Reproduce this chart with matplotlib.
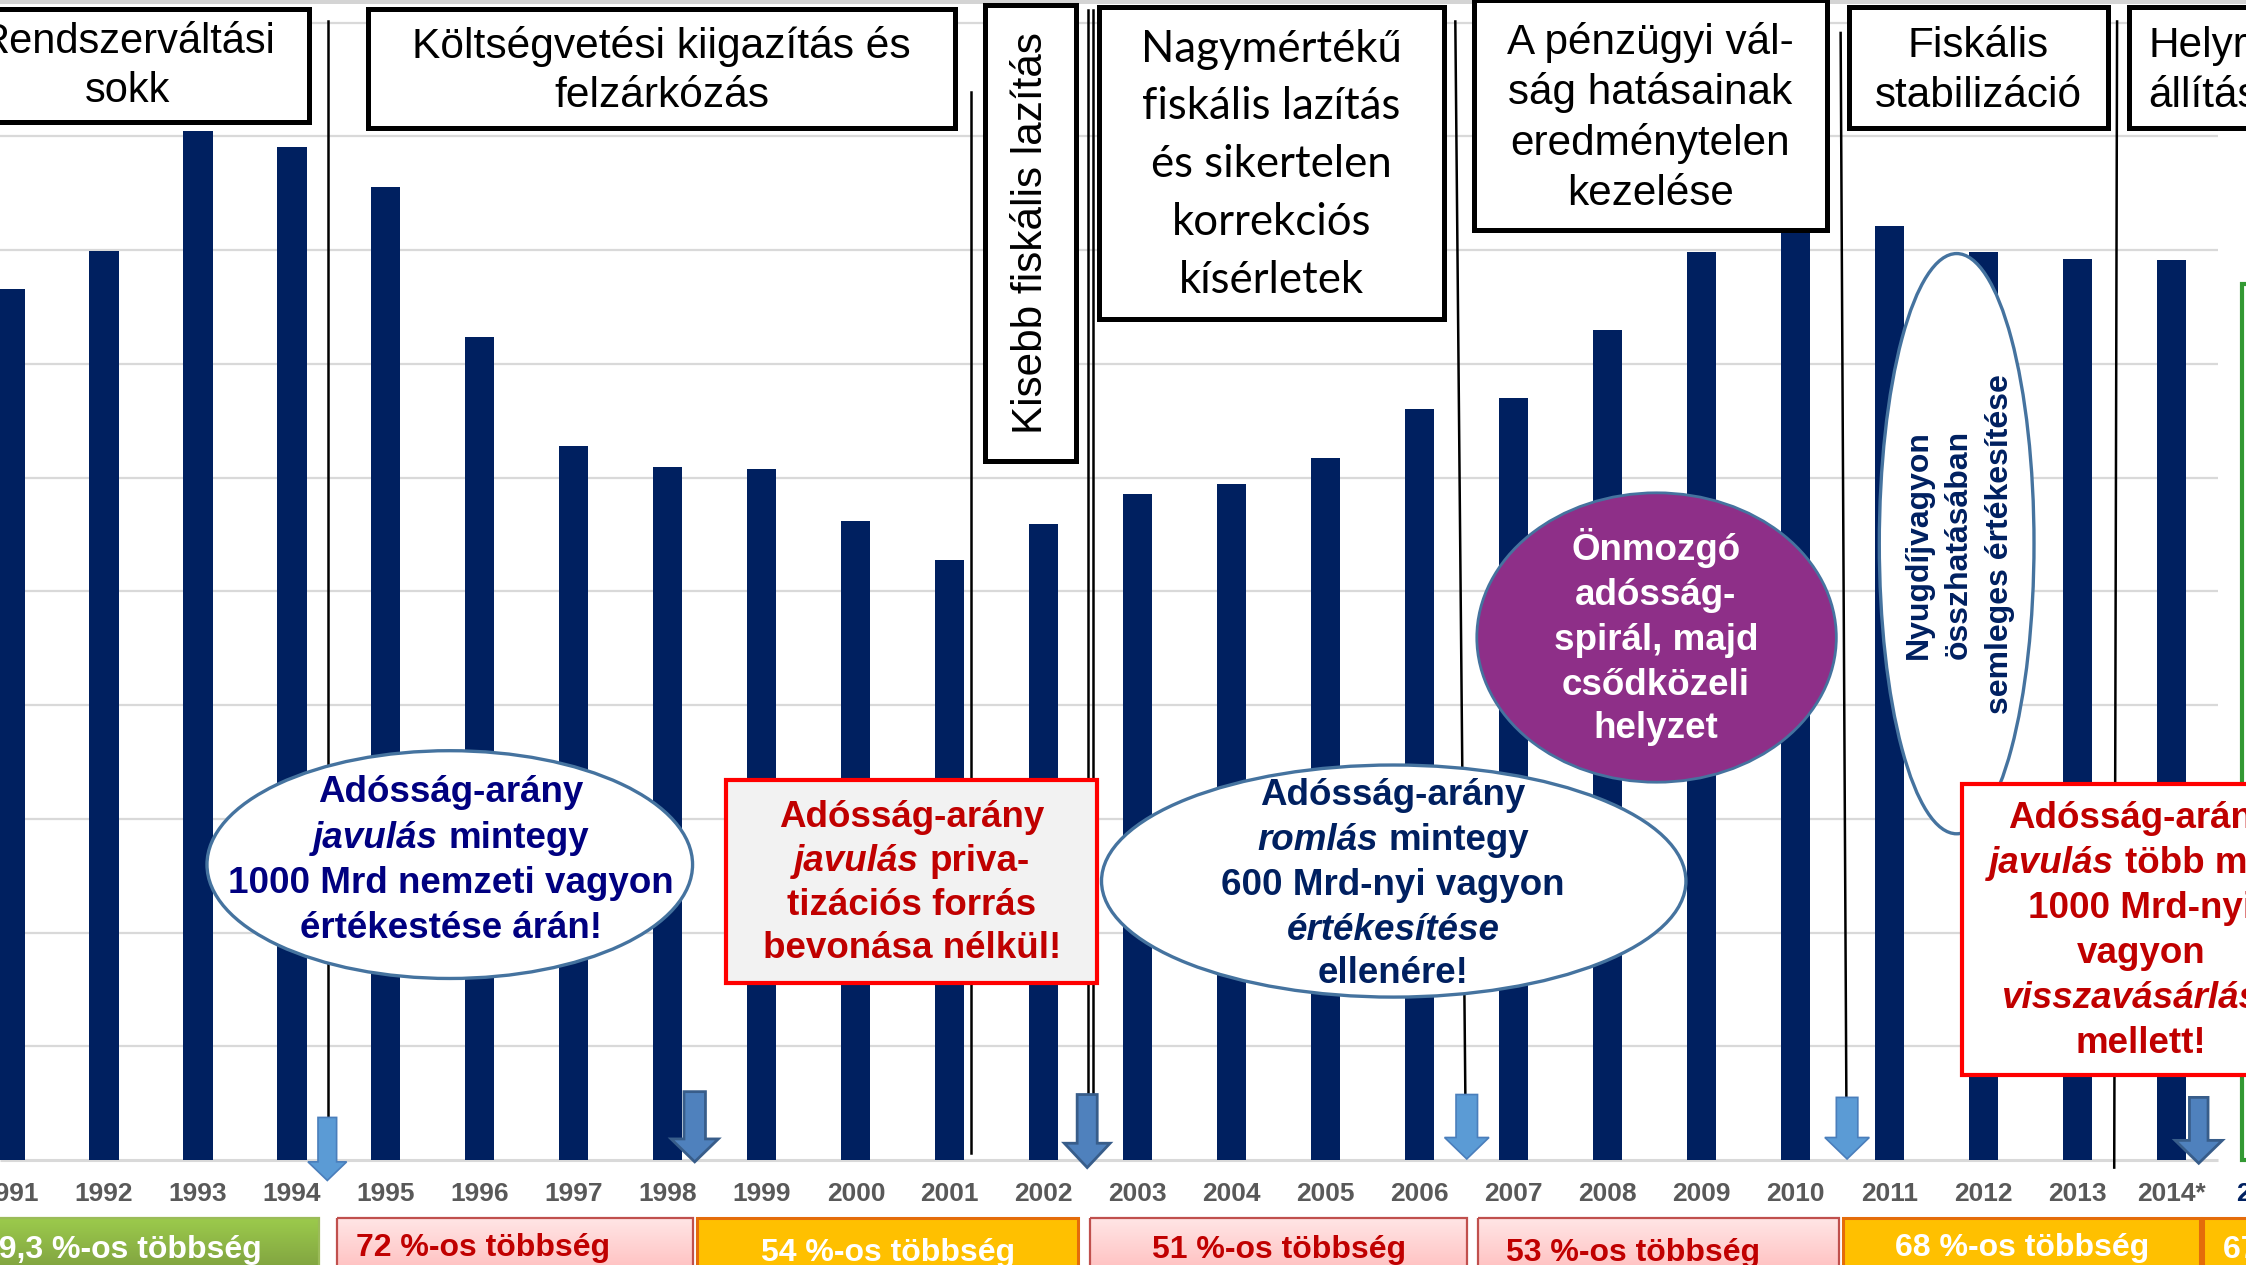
import numpy as np
import matplotlib
matplotlib.use("Agg")
import matplotlib.pyplot as plt
import matplotlib.patches as mpatches
from matplotlib.colors import LinearSegmentedColormap
from matplotlib.transforms import ScaledTranslation

plt.rcParams["font.family"] = ["Liberation Sans", "DejaVu Sans"]

NAVY    = "#002060"
GRID    = "#D9D9D9"
TICK    = "#595959"
RED     = "#FF0000"
DARKRED = "#C00000"
PURPLE  = "#8E2F88"
EBLUE   = "#45739F"

# debt / GDP (%)
years = ["1991", "1992", "1993", "1994", "1995", "1996", "1997", "1998",
         "1999", "2000", "2001", "2002", "2003", "2004", "2005", "2006",
         "2007", "2008", "2009", "2010", "2011", "2012", "2013", "2014*"]
debt = [76.6, 79.9, 90.5, 89.1, 85.6, 72.4, 62.8, 60.9,
        60.8, 56.2, 52.8, 55.9, 58.6, 59.4, 61.7, 66.0,
        67.0, 73.0, 79.8, 82.1, 82.1, 79.8, 79.2, 79.1]
next_year  = "2015"
next_value = 77.0

# parliamentary majorities shown in the bottom strip
majorities = ["59,3 %-os többség", "72 %-os többség", "54 %-os többség",
              "51 %-os többség", "53 %-os többség", "68 %-os többség",
              "67 %-os többség"]

fig = plt.figure(figsize=(22.46, 12.65), dpi=100)
fig.patch.set_facecolor("white")

# ---- bars -------------------------------------------------------------
ax = fig.add_axes([0, 0, 1, 1])
ax.set_xlim(-0.106, 23.79)
ax.set_ylim(-9.23, 102.0)
ax.axis("off")

ax.hlines(np.arange(10, 101, 10), -0.106, 23.49, color=GRID, lw=1.6, zorder=1)
ax.hlines(0, -0.106, 23.49, color=GRID, lw=2.2, zorder=1)
ax.bar(np.arange(len(years)), debt, width=0.31, color=NAVY, zorder=2)
ax.bar(len(years), next_value, width=0.5, facecolor="white",
       edgecolor="#339933", lw=3, zorder=2)

for i, lab in enumerate(years):
    ax.text(i, -3.58, lab, ha="center", va="baseline", fontsize=19,
            fontweight="bold", color=TICK)
ax.text(len(years), -3.58, next_year, ha="center", va="baseline",
        fontsize=19, fontweight="bold", color=NAVY)

# ---- annotation layer (coordinates of the slide, 1568 x 883) -----------
ov = fig.add_axes([0, 0, 1, 1])
ov.axis("off")
renderer = fig.canvas.get_renderer()


def rich_lines(cx, baselines, lines, size, color, zorder=8):
    sp = 0.278 * size * fig.dpi / 72
    for y, line in zip(baselines, lines):
        if isinstance(line, str):
            line = [(line, False)]
        objs, widths = [], []
        for word, ital in line:
            t = ov.text(cx, y, word, fontsize=size, fontweight="bold",
                        style="italic" if ital else "normal", color=color,
                        ha="left", va="baseline", zorder=zorder)
            objs.append(t)
            widths.append(t.get_window_extent(renderer).width)
        total = sum(widths) + sp * (len(widths) - 1)
        off = -total / 2
        for t, w in zip(objs, widths):
            t.set_transform(ov.transData +
                            ScaledTranslation(off / fig.dpi, 0, fig.dpi_scale_trans))
            off += w + sp


def plain_lines(cx, baselines, lines, size, family=None, ha="center"):
    kw = {"family": family} if family else {}
    for y, s in zip(baselines, lines):
        ov.text(cx, y, s, fontsize=size, color="black", ha=ha,
                va="baseline", zorder=6, **kw)


def box(x0, y0, x1, y1, lw=3.6, ec="black", fc="white", z=5):
    ov.add_patch(mpatches.Rectangle((x0, y0), x1 - x0, y1 - y0, fc=fc,
                                    ec=ec, lw=lw, zorder=z))


def down_arrow(cx, top, shw, head, hhw, tip, dark):
    fc, ec = ("#4F81BD", "#385D8A") if dark else ("#5B9BD5", "#4A7EBB")
    pts = [(cx - shw, top), (cx + shw, top), (cx + shw, head), (cx + hhw, head),
           (cx, tip), (cx - hhw, head), (cx - shw, head)]
    ov.add_patch(mpatches.Polygon(pts, closed=True, fc=fc, ec=ec,
                                  lw=2 if dark else 1.2, zorder=7))


# thin grey strip at the very top
ov.add_patch(mpatches.Rectangle((0, -2), 1568, 5, fc="#D4D4D4", ec="none", zorder=1))

# period separators
seps = [((229, 15), (229, 780)), ((678, 64), (678, 805)),
        ((759.5, 7), (759.5, 764)), ((763, 7), (763, 764)),
        ((1016, 15), (1023, 764)), ((1285, 23), (1289, 766)),
        ((1478, 15), (1476, 815))]
for (xa, ya), (xb, yb) in seps:
    ov.plot([xa, xb], [ya, yb], color="black", lw=1.8, zorder=3)

# period headings
box(-10, 6, 215.5, 85.5)
plain_lines(89, [37, 71], ["Rendszerváltási", "sokk"], 30)
box(257, 6, 667, 89.6)
plain_lines(462, [40.7, 74.5], ["Költségvetési kiigazítás és", "felzárkózás"], 30.6)
box(687.5, 3.5, 751, 322)
ov.text(720, 163, "Kisebb fiskális lazítás", fontsize=30.4, rotation=90,
        ha="center", va="center", zorder=6)
box(767, 5, 1008, 223)
plain_lines(887.5, [43, 83, 123.5, 164, 204.5],
            ["Nagymértékű", "fiskális lazítás", "és sikertelen", "korrekciós",
             "kísérletek"], 31.5, family=["Lato", "DejaVu Sans"])
box(1029, 0, 1275.5, 160.6)
plain_lines(1152, [37.5, 72.8, 108.1, 143.4],
            ["A pénzügyi vál-", "ság hatásainak", "eredménytelen", "kezelése"], 30.4)
box(1291, 5, 1472, 89.6)
plain_lines(1381, [39.6, 74.5], ["Fiskális", "stabilizáció"], 30.4)
box(1486, 5, 1620, 89.6)
plain_lines(1500, [39.6, 74.5], ["Helyre-", "állítás"], 30.4, ha="left")

# callouts
ov.add_patch(mpatches.Ellipse((314, 603.5), 339, 159, fc="white", ec=EBLUE,
                              lw=2.4, zorder=5))
rich_lines(315, [560, 592, 623.5, 655],
           ["Adósság-arány", [("javulás", True), ("mintegy", False)],
            "1000 Mrd nemzeti vagyon", "értékestése árán!"], 26.5, "#000080")

box(507, 544.5, 765.6, 686.4, lw=3, ec=RED, fc="#F2F2F2")
rich_lines(636.5, [577, 607.7, 638.4, 669],
           ["Adósság-arány", [("javulás", True), ("priva-", False)],
            "tizációs forrás", "bevonása nélkül!"], 26.5, DARKRED)

ov.add_patch(mpatches.Ellipse((973, 615), 408, 162, fc="white", ec=EBLUE,
                              lw=2.4, zorder=5))
rich_lines(972.5, [562, 593.4, 624.8, 656, 686.5],
           ["Adósság-arány", [("romlás", True), ("mintegy", False)],
            "600 Mrd-nyi vagyon", [("értékesítése", True)], "ellenére!"],
           26.5, NAVY)

ov.add_patch(mpatches.Ellipse((1156.5, 445), 251, 202, fc=PURPLE, ec=EBLUE,
                              lw=2, zorder=5))
rich_lines(1156, [391, 422.4, 453.8, 485.2, 515],
           ["Önmozgó", "adósság-", "spirál, majd", "csődközeli", "helyzet"],
           26.5, "white")

ov.add_patch(mpatches.Ellipse((1366, 379.5), 108, 405, fc="white", ec=EBLUE,
                              lw=2.4, zorder=5))
for xc, s in zip([1339.6, 1367.6, 1396.5],
                 ["Nyugdíjvagyon", "összhatásában", "semleges értékesítése"]):
    ov.text(xc, 380, s, fontsize=23, fontweight="bold", color=NAVY,
            rotation=90, ha="center", va="center", zorder=8)

box(1370, 547, 1640, 750.5, lw=3, ec=RED, fc="white")
rich_lines(1494.5, [578, 609.5, 640.5, 672, 703.5, 735],
           ["Adósság-arány", [("javulás", True), ("több mint", False)],
            "1000 Mrd-nyi", "vagyon", [("visszavásárlása", True)], "mellett!"],
           26.5, DARKRED)

# government-change arrows
down_arrow(228.5, 780, 6.5, 811, 13.5, 824, False)
down_arrow(485, 762, 7.5, 795, 16.5, 811, True)
down_arrow(759, 764, 7, 798, 16, 815, True)
down_arrow(1024, 764, 7.5, 794, 15.5, 809, False)
down_arrow(1289.5, 766, 7.5, 794, 15.5, 809, False)
down_arrow(1535, 766, 6.5, 796, 16.5, 812, True)

# majority strip
PINK  = LinearSegmentedColormap.from_list("pink", ["#FFE6E6", "#FFB3B3"])
GREEN = LinearSegmentedColormap.from_list("green", ["#9CCB4C", "#76933C"])
grad = np.linspace(0, 1, 64).reshape(-1, 1)

strip = [(-20, 222.5, "green", majorities[0], "white", 183, "right", 878),
         (235, 484, "pink", majorities[1], DARKRED, 248.5, "left", 877),
         (486.6, 752.7, "orange", majorities[2], "white", 531, "left", 880),
         (761, 1024, "pink", majorities[3], DARKRED, 804, "left", 878),
         (1031.6, 1284, "pink", majorities[4], DARKRED, 1051.6, "left", 880),
         (1286.7, 1535.6, "orange", majorities[5], "white", 1323, "left", 877),
         (1538, 1640, "orange", majorities[6], "white", 1551.7, "left", 878)]
for x0, x1, kind, label, tc, tx, ha, base in strip:
    if kind == "orange":
        box(x0, 850, x1, 900, lw=2.2, ec="#E46C0A", fc="#FFC000", z=4)
    else:
        ov.imshow(grad, cmap=PINK if kind == "pink" else GREEN,
                  extent=(x0, x1, 900, 850), aspect="auto", zorder=4,
                  origin="upper")
        ec = "#C0504D" if kind == "pink" else "#9BBB59"
        ov.add_patch(mpatches.Rectangle((x0, 850), x1 - x0, 50, fc="none",
                                        ec=ec, lw=1.6, zorder=5))
    ov.text(tx, base, label, fontsize=23, fontweight="bold", color=tc,
            ha=ha, va="baseline", zorder=6)

ov.set_xlim(0, 1568)
ov.set_ylim(883, 0)

fig.savefig("out.png", dpi=100, facecolor="white")
